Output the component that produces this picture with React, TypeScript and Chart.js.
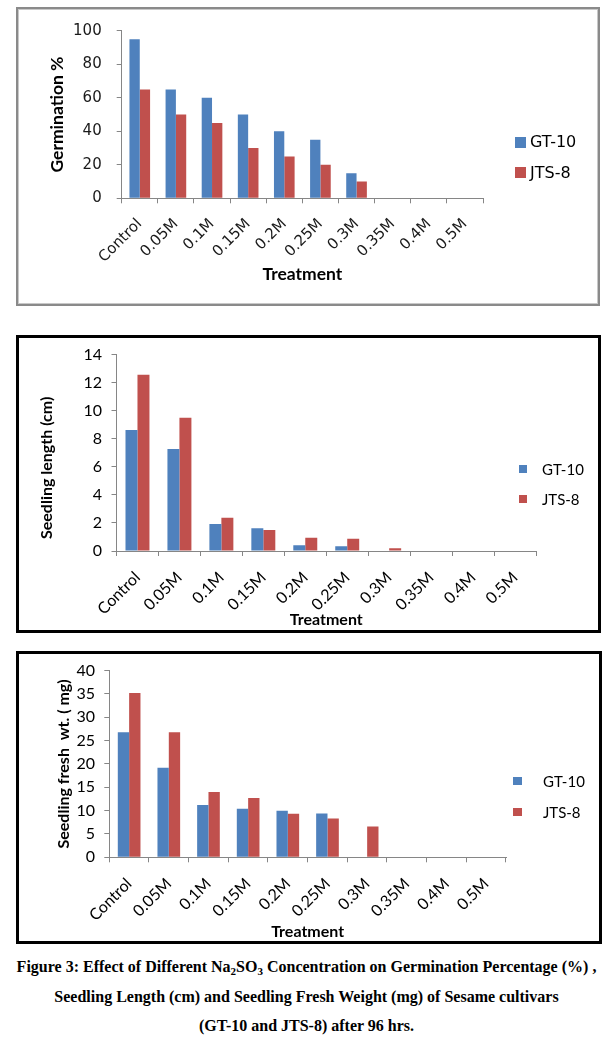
import React, { useEffect, useRef } from 'react';
import { Chart, registerables } from 'chart.js';
Chart.register(...registerables);

const categories = ['Control', '0.05M', '0.1M', '0.15M', '0.2M', '0.25M', '0.3M', '0.35M', '0.4M', '0.5M'];
const seriesNames = ['GT-10', 'JTS-8'];
const seriesColors = ['#4F81BD', '#C0504D'];

const germGT = [95, 65, 60, 50, 40, 35, 15, 0, 0, 0];
const germJTS = [65, 50, 45, 30, 25, 20, 10, 0, 0, 0];

const lenGT = [8.63, 7.27, 1.92, 1.63, 0.41, 0.34, 0, 0, 0, 0];
const lenJTS = [12.57, 9.51, 2.38, 1.5, 0.95, 0.88, 0.2, 0, 0, 0];

const wtGT = [26.8, 19.2, 11.2, 10.4, 9.96, 9.4, 0, 0, 0, 0];
const wtJTS = [35.2, 26.8, 14.0, 12.7, 9.3, 8.3, 6.6, 0, 0, 0];

const germAxis = { max: 100, step: 20 };
const lenAxis = { max: 14, step: 2 };
const wtAxis = { max: 40, step: 5 };

const AXIS_GRAY = '#868686';

type Cfg = {
  gt: number[];
  jts: number[];
  axis: { max: number; step: number };
  yTitle: string;
  tickFont: string;
  tickSize: number;
  titleFont: string;
  titleSize: number;
  yWidth: number;
  xHeight: number;
  padTop: number;
  padRight: number;
  yTitleX: number;
  yTitleShift: number;
  xTitlePad: number;
  yTickPad: number;
  xTickPad: number;
  textColor: string;
};

// Draws the y-axis title rotated, centred on the axis with an optional vertical shift
const yTitlePlugin = {
  id: 'yTitleShifted',
  afterDraw(chart: any, _args: any, opts: any) {
    const y = chart.scales.y;
    if (!y || !opts || !opts.text) return;
    const ctx = chart.ctx;
    ctx.save();
    ctx.fillStyle = opts.color || '#000';
    ctx.font = `bold ${opts.size}px ${opts.family}`;
    ctx.textAlign = 'center';
    ctx.textBaseline = 'middle';
    ctx.translate(y.left + opts.x, (y.top + y.bottom) / 2 + (opts.shift || 0));
    ctx.rotate(-Math.PI / 2);
    ctx.fillText(opts.text, 0, 0);
    ctx.restore();
  },
};

function ChartBox(props: {
  cfg: Cfg;
  left: number;
  top: number;
  width: number;
  height: number;
  border: string;
  shadow?: string;
}) {
  const ref = useRef<HTMLCanvasElement | null>(null);
  const { cfg } = props;
  useEffect(() => {
    if (!ref.current) return;
    const chart = new Chart(ref.current, {
      type: 'bar',
      data: {
        labels: categories,
        datasets: [
          { label: seriesNames[0], data: cfg.gt, backgroundColor: seriesColors[0], categoryPercentage: 2 / 3.5, barPercentage: 1 },
          { label: seriesNames[1], data: cfg.jts, backgroundColor: seriesColors[1], categoryPercentage: 2 / 3.5, barPercentage: 1 },
        ],
      },
      plugins: [yTitlePlugin],
      options: {
        responsive: true,
        maintainAspectRatio: false,
        animation: false,
        layout: { padding: { top: cfg.padTop, right: cfg.padRight, left: 0, bottom: 0 } },
        plugins: {
          legend: { display: false },
          tooltip: { enabled: false },
          yTitleShifted: {
            text: cfg.yTitle,
            family: cfg.titleFont,
            size: cfg.titleSize,
            x: cfg.yTitleX,
            shift: cfg.yTitleShift,
            color: '#000',
          },
        },
        scales: {
          x: {
            afterFit: (s: any) => { s.height = cfg.xHeight; },
            grid: { drawOnChartArea: false, drawTicks: true, tickLength: 5, color: AXIS_GRAY, offset: true },
            border: { display: true, color: AXIS_GRAY, width: 1 },
            ticks: {
              autoSkip: false,
              minRotation: 45,
              maxRotation: 45,
              padding: cfg.xTickPad,
              color: cfg.textColor,
              font: { family: cfg.tickFont, size: cfg.tickSize },
            },
            title: {
              display: true,
              text: 'Treatment',
              color: '#000',
              font: { family: cfg.titleFont, size: cfg.titleSize, weight: 'bold' },
              padding: { top: 0, bottom: cfg.xTitlePad },
            },
          },
          y: {
            min: 0,
            max: cfg.axis.max,
            afterFit: (s: any) => { s.width = cfg.yWidth; },
            grid: { drawOnChartArea: false, drawTicks: true, tickLength: 5, color: AXIS_GRAY },
            border: { display: true, color: AXIS_GRAY, width: 1 },
            ticks: {
              stepSize: cfg.axis.step,
              padding: cfg.yTickPad,
              color: cfg.textColor,
              font: { family: cfg.tickFont, size: cfg.tickSize, lineHeight: 0.9 },
            },
            title: { display: false },
          },
        },
      } as any,
    });
    return () => chart.destroy();
  }, []);
  return (
    <div
      style={{
        position: 'absolute',
        left: props.left,
        top: props.top,
        width: props.width,
        height: props.height,
        border: props.border,
        boxShadow: props.shadow,
        background: '#fff',
      }}
    >
      <div style={{ position: 'relative', width: props.width, height: props.height }}>
        <canvas ref={ref} />
      </div>
    </div>
  );
}

function Legend(props: {
  left: number;
  textLeft: number;
  ys: number[];
  size: number;
  font: string;
  fontSize: number;
}) {
  return (
    <>
      {seriesNames.map((n, i) => (
        <React.Fragment key={n}>
          <div
            style={{
              position: 'absolute',
              left: props.left,
              top: props.ys[i] - props.size / 2,
              width: props.size,
              height: props.size,
              background: seriesColors[i],
            }}
          />
          <div
            style={{
              position: 'absolute',
              left: props.textLeft,
              top: props.ys[i] - 12,
              height: 24,
              lineHeight: '24px',
              fontFamily: props.font,
              fontSize: props.fontSize,
              color: '#000',
              whiteSpace: 'nowrap',
            }}
          >
            {n}
          </div>
        </React.Fragment>
      ))}
    </>
  );
}

const topCfg: Cfg = {
  gt: germGT, jts: germJTS, axis: germAxis, yTitle: 'Germination %',
  tickFont: "'DejaVu Sans'", tickSize: 15, titleFont: 'Lato', titleSize: 17.5,
  yWidth: 103.7, xHeight: 105.7, padTop: 18, padRight: 115,
  yTitleX: 39, yTitleShift: 0, xTitlePad: 19.5, yTickPad: 15, xTickPad: 12, textColor: '#1a1a1a',
};

const midCfg: Cfg = {
  gt: lenGT, jts: lenJTS, axis: lenAxis, yTitle: 'Seedling length (cm)',
  tickFont: 'Lato', tickSize: 16, titleFont: 'Lato', titleSize: 16,
  yWidth: 97.5, xHeight: 79, padTop: 7, padRight: 62,
  yTitleX: 28, yTitleShift: 15, xTitlePad: 0.4, yTickPad: 9.5, xTickPad: 12, textColor: '#000',
};

const botCfg: Cfg = {
  gt: wtGT, jts: wtJTS, axis: wtAxis, yTitle: 'Seedling fresh  wt. ( mg)',
  tickFont: 'Lato', tickSize: 16, titleFont: 'Lato', titleSize: 16,
  yWidth: 90.3, xHeight: 83.7, padTop: 13.3, padRight: 93,
  yTitleX: 45, yTitleShift: 0, xTitlePad: 0, yTickPad: 9.3, xTickPad: 12, textColor: '#000',
};

export default function App() {
  const sub: React.CSSProperties = { fontSize: 11, verticalAlign: -3, lineHeight: 0 };
  return (
    <div style={{ position: 'absolute', left: 0, top: 0, width: 613, height: 1038, background: '#fff' }}>
      <ChartBox cfg={topCfg} left={16} top={7} width={580} height={295} border="2px solid #8a8a8a" shadow="inset 0 0 0 1px #c8c8c8" />
      <Legend left={515} textLeft={530} ys={[142, 172.5]} size={11} font="'DejaVu Sans'" fontSize={16} />

      <ChartBox cfg={midCfg} left={16} top={335} width={579} height={292} border="3px solid #000" />
      <Legend left={518.5} textLeft={542} ys={[469, 499]} size={8.5} font="Lato" fontSize={15} />

      <ChartBox cfg={botCfg} left={16} top={651} width={580} height={287} border="3px solid #000" />
      <Legend left={513} textLeft={543} ys={[781, 812]} size={8.5} font="Lato" fontSize={15} />

      <div
        style={{
          position: 'absolute',
          left: 0,
          top: 952,
          width: 613,
          textAlign: 'center',
          fontFamily: "'Liberation Serif'",
          fontWeight: 'bold',
          fontSize: 16,
          lineHeight: '29.5px',
          color: '#000',
        }}
      >
        Figure 3: Effect of Different Na<span style={sub}>2</span>SO<span style={sub}>3</span> Concentration on Germination Percentage (%) ,
        <br />
        Seedling Length (cm) and Seedling Fresh Weight (mg) of Sesame cultivars
        <br />
        (GT-10 and JTS-8) after 96 hrs.
      </div>
    </div>
  );
}
